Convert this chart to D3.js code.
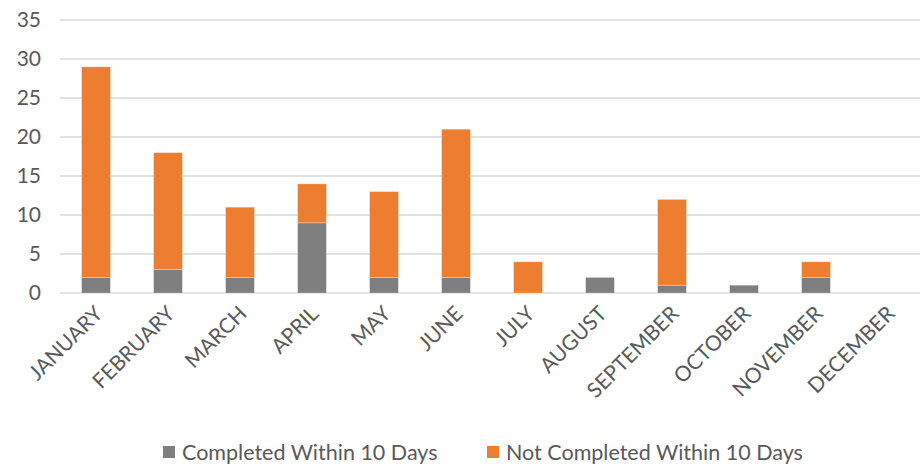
<!DOCTYPE html>
<html>
<head>
<meta charset="utf-8">
<script src="https://cdn.jsdelivr.net/npm/d3@7"></script>
<style>
  body { margin: 0; background: #fff; }
  svg { display: block; font-family: Lato, "Open Sans", sans-serif; }
</style>
</head>
<body>
<svg id="chart" width="921" height="464"></svg>
<script>
const categories = ["JANUARY","FEBRUARY","MARCH","APRIL","MAY","JUNE","JULY","AUGUST","SEPTEMBER","OCTOBER","NOVEMBER","DECEMBER"];
const completed = [2, 3, 2, 9, 2, 2, 0, 2, 1, 1, 2, 0];
const notCompleted = [27, 15, 9, 5, 11, 19, 4, 0, 11, 0, 2, 0];
const seriesNames = ["Completed Within 10 Days", "Not Completed Within 10 Days"];
const colors = ["#7f7f7f", "#ed7d31"];
const yTicks = [0, 5, 10, 15, 20, 25, 30, 35];

(function () {
const svg = d3.select("#chart");
const plotLeft = 60, plotRight = 924, gridRight = 920, plotTop = 20, plotBottom = 293;

const x = d3.scaleBand().domain(categories).range([plotLeft, plotRight]).padding(0);
const y = d3.scaleLinear().domain([0, 35]).range([plotBottom, plotTop]);

// gridlines
svg.append("g").selectAll("line").data(yTicks).join("line")
  .attr("x1", plotLeft).attr("x2", gridRight)
  .attr("y1", d => y(d)).attr("y2", d => y(d))
  .attr("stroke", "#d9d9d9").attr("stroke-width", 1.3);

// y axis labels
const yAxis = d3.axisLeft(y).tickValues(yTicks).tickSize(0).tickPadding(0);
const ya = svg.append("g").attr("transform", `translate(${plotLeft - 19},0)`).call(yAxis);
ya.select(".domain").remove();
ya.selectAll("text").attr("font-size", 21).attr("fill", "#595959")
  .attr("font-family", "Lato, sans-serif");

// stacked data
const rows = categories.map((c, i) => ({cat: c, s0: completed[i], s1: notCompleted[i]}));
const stack = d3.stack().keys(["s0", "s1"])(rows);
const barW = x.bandwidth() * 0.4;

svg.append("g").selectAll("g").data(stack).join("g")
  .attr("fill", (d, i) => colors[i])
  .selectAll("rect").data(d => d.filter(p => p[1] - p[0] > 0)).join("rect")
  .attr("x", d => x(d.data.cat) + x.bandwidth() / 2 - barW / 2)
  .attr("width", barW)
  .attr("y", d => y(d[1]))
  .attr("height", d => y(d[0]) - y(d[1]))
  .attr("stroke", "#ffffff").attr("stroke-opacity", 0.35).attr("stroke-width", 0.8);

// x axis labels
const xAxis = d3.axisBottom(x).tickSize(0).tickPadding(0);
const xa = svg.append("g").attr("transform", `translate(0,${plotBottom})`).call(xAxis);
xa.select(".domain").remove();
xa.selectAll("text")
  .attr("font-size", 21).attr("fill", "#595959")
  .attr("font-family", "Lato, sans-serif")
  .attr("text-anchor", "end")
  .attr("dy", 0).attr("y", 0)
  .attr("transform", "translate(8,22) rotate(-45)");

// legend
const legend = svg.append("g");
const legendX = [163, 487];
seriesNames.forEach((name, i) => {
  const g = legend.append("g").attr("transform", `translate(${legendX[i]},452)`);
  g.append("rect").attr("x", 0).attr("y", -6).attr("width", 12).attr("height", 12).attr("fill", colors[i]);
  g.append("text").attr("x", 19).attr("y", 0).attr("dy", "0.35em")
    .attr("font-size", 21.5).attr("fill", "#595959").text(name);
});
})();
</script>
</body>
</html>
